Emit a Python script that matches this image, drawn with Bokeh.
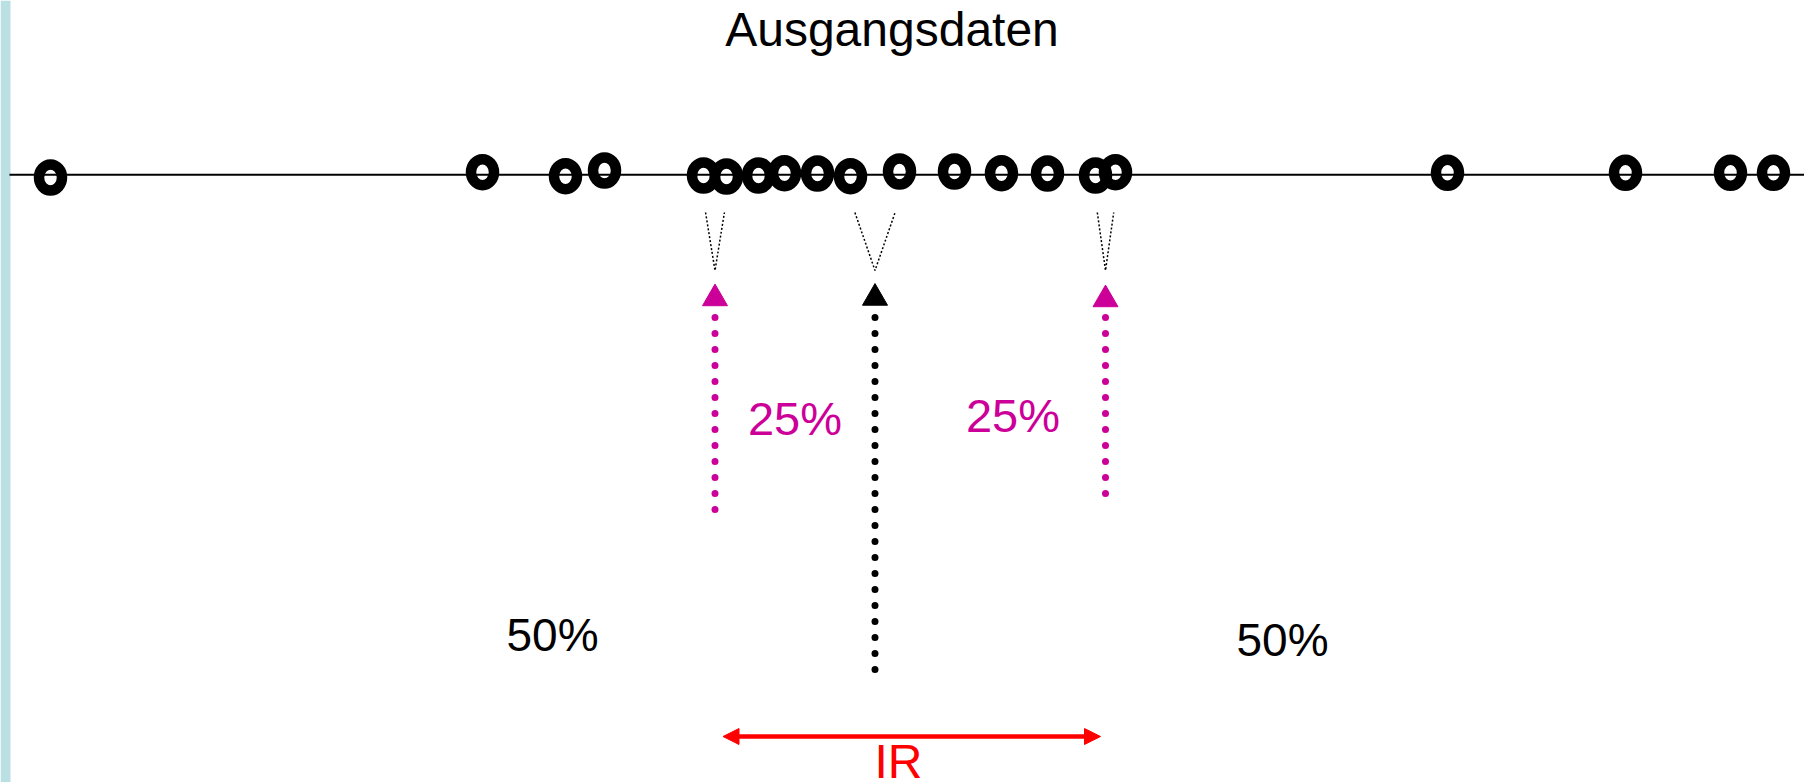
from bokeh.plotting import figure
from bokeh.models import Range1d, Arrow, NormalHead, ColumnDataSource
from bokeh.core.properties import value
from bokeh.embed import file_html
from bokeh.resources import INLINE

# ---- data ----
values = [50, 482, 565, 604, 703, 726, 758, 784, 817, 850,
          899, 954, 1001, 1047, 1095, 1115, 1447, 1625, 1730, 1773]
jitter = [-2.7, 2.6, -1.4, 4.3, -0.7, -1.7, -0.7, 1.6, 1.3, -1.4,
          3.3, 3.3, 1.6, 1.3, -0.7, 2.6, 2.0, 2.0, 2.0, 2.0]
title_text = "Ausgangsdaten"
quarter_label = "25%"
half_label = "50%"
range_label = "IR"

FONT = value("Liberation Sans")
MAGENTA = "#CC0099"
AXIS_Y = 174.3
W, H = 1804, 782

v = sorted(values)
n = len(v)
q1 = (v[n // 4 - 1] + v[n // 4]) / 2
med = (v[n // 2 - 1] + v[n // 2]) / 2
q3 = (v[3 * n // 4 - 1] + v[3 * n // 4]) / 2
neigh = [(v[n // 4 - 1], v[n // 4], q1), (v[n // 2 - 1], v[n // 2], med),
         (v[3 * n // 4 - 1], v[3 * n // 4], q3)]

p = figure(width=W, height=H, x_range=Range1d(0, W), y_range=Range1d(H, 0),
           output_backend="svg", toolbar_location=None, min_border=0)
p.axis.visible = False
p.grid.visible = False
p.outline_line_color = None
p.background_fill_color = "white"
p.border_fill_color = "white"

# left light-blue stripe
p.quad(left=[0], right=[10], top=[0], bottom=[H], fill_color="#BBE0E3", line_color=None)

# number line
p.segment(x0=[9], x1=[W], y0=[AXIS_Y], y1=[AXIS_Y], line_color="black", line_width=2)

# data points
src = ColumnDataSource(dict(x=values, y=[AXIS_Y - j for j in jitter]))
p.ellipse(x="x", y="y", width=23, height=26, width_units="screen", height_units="screen",
          source=src, fill_color=None, line_color="black", line_width=10.5)

# V-shaped pointers to the gaps
xs, ys = [], []
for a, b, m in neigh:
    h = (b - a) / 2 * 0.82
    xs.append([m - h, m, m + h])
    ys.append([212, 270, 212])
p.multi_line(xs=xs, ys=ys, line_color="black", line_width=1.5, line_dash="2 2")

# dotted arrows
p.segment(x0=[q1, q3], x1=[q1, q3], y0=[317, 317], y1=[513, 497],
          line_color=MAGENTA, line_width=7, line_dash="0 16", line_cap="round")
p.segment(x0=[med], x1=[med], y0=[317], y1=[673],
          line_color="black", line_width=7, line_dash="0 16", line_cap="round")
p.scatter(x=[q1, q3], y=[298, 299], marker="triangle", size=25,
          fill_color=MAGENTA, line_color=MAGENTA)
p.scatter(x=[med], y=[297.5], marker="triangle", size=25,
          fill_color="black", line_color="black")

# IR double arrow
p.add_layout(Arrow(start=NormalHead(size=16, fill_color="red", line_color="red"),
                   end=NormalHead(size=16, fill_color="red", line_color="red"),
                   x_start=q1 + 8, x_end=q3 - 5, y_start=736, y_end=736,
                   line_color="red", line_width=4.5))

# texts (y = vertical middle of the text)
p.text(x=[891.5], y=[29], text=[title_text], text_font=FONT, text_font_size="48px",
       text_align="center", text_baseline="middle", text_color="black")
p.text(x=[794.5, 1012.5], y=[418, 415], text=[quarter_label, quarter_label], text_font=FONT,
       text_font_size="47px", text_align="center", text_baseline="middle", text_color=MAGENTA)
p.text(x=[552, 1282], y=[634.5, 639], text=[half_label, half_label], text_font=FONT,
       text_font_size="46px", text_align="center", text_baseline="middle", text_color="black")
p.text(x=[898], y=[761], text=[range_label], text_font=FONT, text_font_size="48px",
       text_align="center", text_baseline="middle", text_color="red")

open("out.html", "w").write(file_html(p, INLINE))
